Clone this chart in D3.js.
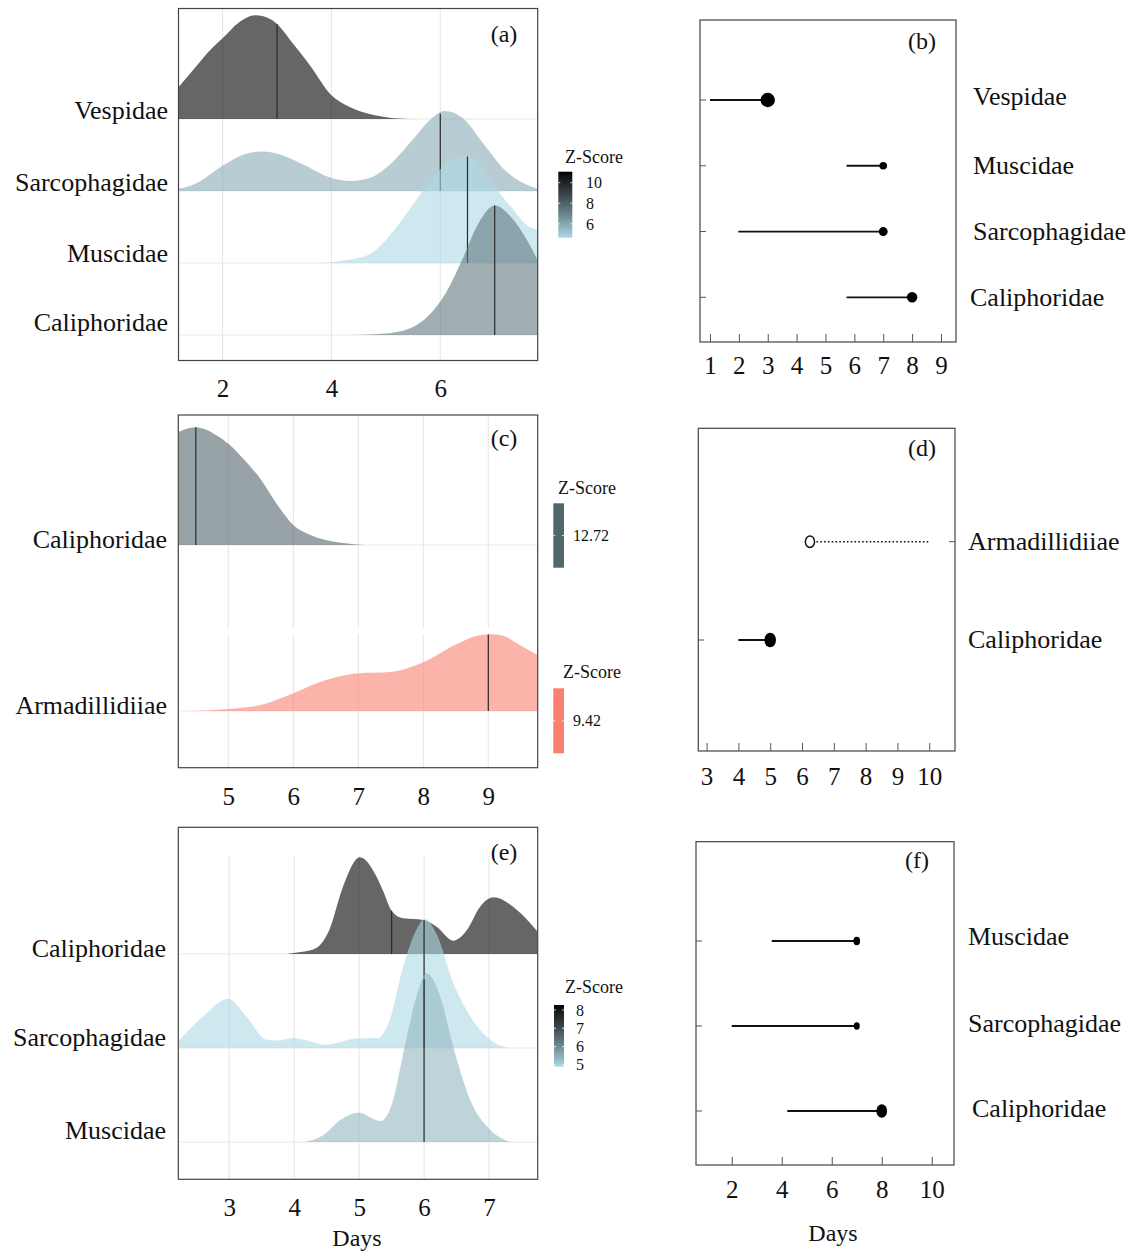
<!DOCTYPE html>
<html>
<head>
<meta charset="utf-8">
<script src="https://cdn.jsdelivr.net/npm/d3@7"></script>
<style>
  body { margin: 0; background: #fff; }
  text { font-family: "Liberation Serif", "Times New Roman", serif; fill: #111; }
</style>
</head>
<body>
<svg id="fig" width="1134" height="1252"></svg>
<script>
// ---------- panel (a): ridges ----------
const aRows = ["Vespidae", "Sarcophagidae", "Muscidae", "Caliphoridae"];
const aZ = [11.07, 5.9, 4.66, 7.4];
const aMedian = [3, 6, 6.5, 7];
const aTicks = [2, 4, 6];
const aVespDay = [1.19, 1.5, 1.8, 2.0, 2.3, 2.6, 2.9, 3.0, 3.3, 3.6, 4.0, 4.3, 4.6, 5.0, 5.45];
const aVespDens = [0.44, 0.72, 0.98, 1.12, 1.34, 1.44, 1.38, 1.32, 1.04, 0.75, 0.33, 0.18, 0.09, 0.025, 0];
const aSarcDay = [1.19, 1.5, 2.0, 2.4, 2.72, 3.0, 3.5, 4.0, 4.34, 4.7, 5.0, 5.5, 5.8, 6.08, 6.4, 6.8, 7.2, 7.5, 7.79];
const aSarcDens = [0.03, 0.1, 0.35, 0.51, 0.55, 0.52, 0.36, 0.18, 0.14, 0.18, 0.32, 0.72, 0.98, 1.11, 1.02, 0.65, 0.28, 0.12, 0.03];
const aMuscDay = [3.82, 4.2, 4.7, 5.0, 5.3, 5.6, 5.9, 6.2, 6.45, 6.7, 7.0, 7.3, 7.6, 7.79];
const aMuscDens = [0, 0.03, 0.12, 0.32, 0.6, 0.92, 1.22, 1.43, 1.5, 1.39, 1.06, 0.78, 0.52, 0.46];
const aCaliDay = [4.34, 4.8, 5.2, 5.5, 5.8, 6.1, 6.4, 6.7, 7.0, 7.3, 7.6, 7.79];
const aCaliDens = [0, 0.01, 0.04, 0.11, 0.28, 0.58, 1.04, 1.55, 1.8, 1.64, 1.31, 1.04];
const aLegendTicks = [6, 8, 10];

// ---------- panel (b): dots ----------
const bRows = ["Vespidae", "Muscidae", "Sarcophagidae", "Caliphoridae"];
const bPoint = [3, 7, 7, 8];
const bOther = [1, 5.73, 1.98, 5.73];
const bZ = [11.07, 4.66, 5.9, 7.4];
const bTicks = [1, 2, 3, 4, 5, 6, 7, 8, 9];

// ---------- panel (c): ridges ----------
const cRows = ["Caliphoridae", "Armadillidiiae"];
const cZ = [12.72, 9.42];
const cMedian = [4.5, 9];
const cTicks = [5, 6, 7, 8, 9];
const cCaliDay = [4.23, 4.36, 4.49, 4.62, 4.82, 5.0, 5.23, 5.49, 5.74, 6.0, 6.26, 6.5, 6.77, 7.1];
const cCaliDens = [0.68, 0.7, 0.71, 0.7, 0.66, 0.61, 0.52, 0.4, 0.25, 0.12, 0.06, 0.03, 0.012, 0];
const cArmaDay = [4.46, 5.0, 5.5, 6.0, 6.36, 6.67, 7.0, 7.49, 8.0, 8.5, 8.8, 9.03, 9.25, 9.44, 9.76];
const cArmaDens = [0, 0.012, 0.036, 0.107, 0.167, 0.205, 0.227, 0.235, 0.293, 0.4, 0.45, 0.462, 0.45, 0.408, 0.337];

// ---------- panel (d): dots ----------
const dRows = ["Armadillidiiae", "Caliphoridae"];
const dPoint = [6.25, 5];
const dOther = [9.97, 4];
const dZ = [9.42, 12.72];
const dSignificant = [false, true];
const dTicks = [3, 4, 5, 6, 7, 8, 9, 10];

// ---------- panel (e): ridges ----------
const eRows = ["Caliphoridae", "Sarcophagidae", "Muscidae"];
const eZ = [8.27, 4.9, 5.37];
const eMedian = [5.5, 6, 6];
const eTicks = [3, 4, 5, 6, 7];
const eCaliDay = [3.88, 4.1, 4.34, 4.54, 4.75, 5.01, 5.27, 5.37, 5.5, 5.68, 5.99, 6.2, 6.45, 6.66, 6.86, 7.07, 7.43, 7.75];
const eCaliDens = [0, 0.02, 0.064, 0.255, 0.713, 1.03, 0.82, 0.67, 0.46, 0.38, 0.362, 0.287, 0.141, 0.255, 0.5, 0.603, 0.468, 0.237];
const eSarcDay = [2.215, 2.6, 2.98, 3.26, 3.57, 3.75, 3.98, 4.2, 4.47, 4.75, 4.96, 5.29, 5.47, 5.68, 5.88, 6.01, 6.2, 6.45, 6.71, 7.02, 7.28];
const eSarcDens = [0.074, 0.337, 0.524, 0.337, 0.088, 0.08, 0.106, 0.08, 0.035, 0.07, 0.103, 0.106, 0.298, 0.869, 1.255, 1.372, 1.202, 0.691, 0.337, 0.088, 0];
const eMuscDay = [4.17, 4.45, 4.71, 4.99, 5.33, 5.51, 5.68, 5.88, 6.04, 6.25, 6.45, 6.71, 7.02, 7.33];
const eMuscDens = [0, 0.074, 0.234, 0.312, 0.223, 0.412, 0.944, 1.543, 1.795, 1.543, 1.011, 0.447, 0.128, 0];
const eLegendTicks = [5, 6, 7, 8];

// ---------- panel (f): dots ----------
const fRows = ["Muscidae", "Sarcophagidae", "Caliphoridae"];
const fPoint = [7, 7, 8];
const fOther = [3.6, 2.0, 4.22];
const fZ = [5.37, 4.9, 8.27];
const fTicks = [2, 4, 6, 8, 10];

const svg = d3.select("#fig");
const gridColor = "#e8e8e8";
const frameColor = "#444";
const ramp = d3.interpolateLab("#add8e6", "#000000");

function interpDens(days, dens, v) {
  const i = d3.bisectLeft(days, v);
  if (i <= 0) return dens[0];
  if (i >= days.length) return dens[dens.length - 1];
  const t = (v - days[i - 1]) / (days[i] - days[i - 1]);
  return dens[i - 1] + t * (dens[i] - dens[i - 1]);
}

function ridgePanel(p) {
  const x = d3.scaleLinear().domain(p.xDomain).range([p.left, p.right]);
  const y = d3.scalePoint().domain(p.rows).range(p.baseRange);
  const h = d3.scaleLinear().domain([0, 1]).range([0, p.step]);
  const g = svg.append("g");

  const clipId = "clip-" + p.tag;
  svg.append("clipPath").attr("id", clipId)
    .append("rect")
    .attr("x", p.left).attr("y", p.top)
    .attr("width", p.right - p.left).attr("height", p.bottom - p.top);
  const plot = g.append("g").attr("clip-path", `url(#${clipId})`);

  p.gridSpans.forEach(([y0, y1]) => {
    plot.append("g").selectAll("line").data(p.ticks).join("line")
      .attr("x1", (d) => x(d)).attr("x2", (d) => x(d))
      .attr("y1", y0).attr("y2", y1)
      .attr("stroke", gridColor).attr("stroke-width", 1.2);
  });
  plot.append("g").selectAll("line").data(p.rows).join("line")
    .attr("x1", p.left).attr("x2", p.right)
    .attr("y1", (d) => y(d)).attr("y2", (d) => y(d))
    .attr("stroke", gridColor).attr("stroke-width", 1.2);

  p.ridges.forEach((r) => {
    const base = y(r.name);
    const area = d3.area()
      .curve(d3.curveMonotoneX)
      .x((d) => x(d[0]))
      .y0(base)
      .y1((d) => base - h(d[1]));
    plot.append("path")
      .datum(d3.zip(r.day, r.dens))
      .attr("d", area)
      .attr("fill", r.color)
      .attr("fill-opacity", 0.6);
    const m = interpDens(r.day, r.dens, r.median);
    plot.append("line")
      .attr("x1", x(r.median)).attr("x2", x(r.median))
      .attr("y1", base).attr("y2", base - h(m))
      .attr("stroke", "#2b2b2b").attr("stroke-width", 1.2);
  });

  g.append("rect")
    .attr("x", p.left).attr("y", p.top)
    .attr("width", p.right - p.left).attr("height", p.bottom - p.top)
    .attr("fill", "none").attr("stroke", frameColor).attr("stroke-width", 1.2);

  g.append("g")
    .attr("transform", `translate(0,${p.bottom})`)
    .call(d3.axisBottom(x).tickValues(p.ticks).tickSize(0)
      .tickPadding(p.labelBase - p.bottom - 18).tickFormat(d3.format("d")))
    .call((a) => a.select(".domain").remove())
    .selectAll("text")
    .attr("font-family", '"Liberation Serif", serif')
    .attr("font-size", 25).attr("fill", "#111");

  g.append("g").selectAll("text").data(p.rows).join("text")
    .attr("x", p.labelX)
    .attr("y", (d, i) => y(d) + p.labelDy[i])
    .attr("text-anchor", "end")
    .attr("font-size", 26)
    .text((d) => d);

  g.append("text")
    .attr("x", p.tagX).attr("y", p.tagY)
    .attr("text-anchor", "middle")
    .attr("font-size", 24)
    .text(`(${p.tag})`);
}

function dotPanel(p) {
  const x = d3.scaleLinear().domain(p.xDomain).range([p.left, p.right]);
  const y = d3.scalePoint().domain(p.rows).range(p.rowRange);
  const r = d3.scaleLinear().domain(p.zDomain).range(p.rRange);
  const g = svg.append("g");

  g.append("rect")
    .attr("x", p.left).attr("y", p.top)
    .attr("width", p.right - p.left).attr("height", p.bottom - p.top)
    .attr("fill", "none").attr("stroke", frameColor).attr("stroke-width", 1.2);

  g.append("g")
    .attr("transform", `translate(0,${p.bottom})`)
    .call(d3.axisBottom(x).tickValues(p.ticks).tickSizeInner(-8).tickSizeOuter(0)
      .tickPadding(p.labelBase - p.bottom - 18).tickFormat(d3.format("d")))
    .call((a) => a.select(".domain").remove())
    .call((a) => a.selectAll("line").attr("stroke", "#555").attr("stroke-width", 1))
    .selectAll("text")
    .attr("font-family", '"Liberation Serif", serif')
    .attr("font-size", 25).attr("fill", "#111");

  const rows = p.rows.map((name, i) => ({
    name,
    point: p.point[i],
    other: p.other[i],
    z: p.z[i],
    sig: p.sig ? p.sig[i] : true,
  }));

  g.append("g").selectAll("line").data(rows).join("line")
    .attr("x1", (d) => (d.sig ? p.left : p.right - 6))
    .attr("x2", (d) => (d.sig ? p.left + 6 : p.right))
    .attr("y1", (d) => y(d.name)).attr("y2", (d) => y(d.name))
    .attr("stroke", "#555").attr("stroke-width", 1);

  g.append("g").selectAll("line").data(rows).join("line")
    .attr("x1", (d) => x(d.other)).attr("x2", (d) => x(d.point))
    .attr("y1", (d) => y(d.name)).attr("y2", (d) => y(d.name))
    .attr("stroke", "#111")
    .attr("stroke-width", (d) => (d.sig ? 1.8 : 1.5))
    .attr("stroke-dasharray", (d) => (d.sig ? null : "1.6,2.2"));

  g.append("g").selectAll("ellipse").data(rows).join("ellipse")
    .attr("cx", (d) => x(d.point)).attr("cy", (d) => y(d.name))
    .attr("rx", (d) => r(d.z)).attr("ry", (d) => r(d.z) * p.aspect)
    .attr("fill", (d) => (d.sig ? "#000" : "#fff"))
    .attr("stroke", "#111").attr("stroke-width", (d) => (d.sig ? 0 : 1.5));

  g.append("g").selectAll("text").data(rows).join("text")
    .attr("x", (d, i) => p.labelX[i])
    .attr("y", (d, i) => y(d.name) + p.labelDy[i])
    .attr("font-size", 26)
    .text((d) => d.name);

  g.append("text")
    .attr("x", p.tagX).attr("y", p.tagY)
    .attr("text-anchor", "middle")
    .attr("font-size", 24)
    .text(`(${p.tag})`);
}

function gradLegend(p) {
  const g = svg.append("g");
  const ly = d3.scaleLinear().domain(p.domain).range([p.y1, p.y0]);
  const id = "grad-" + p.id;
  const grad = svg.append("defs").append("linearGradient")
    .attr("id", id).attr("x1", 0).attr("y1", 1).attr("x2", 0).attr("y2", 0);
  grad.selectAll("stop").data(d3.range(0, 1.0001, 0.1)).join("stop")
    .attr("offset", (d) => d)
    .attr("stop-color", (d) => ramp(d));
  g.append("text").attr("x", p.titleX).attr("y", p.titleY)
    .attr("font-size", 18).text("Z-Score");
  g.append("rect").attr("x", p.x0).attr("y", p.y0)
    .attr("width", p.x1 - p.x0).attr("height", p.y1 - p.y0)
    .attr("fill", `url(#${id})`);
  p.ticks.forEach((t) => {
    g.append("line").attr("x1", p.x0).attr("x2", p.x0 + 2)
      .attr("y1", ly(t)).attr("y2", ly(t)).attr("stroke", "#fff").attr("stroke-width", 0.8);
    g.append("line").attr("x1", p.x1 - 2).attr("x2", p.x1)
      .attr("y1", ly(t)).attr("y2", ly(t)).attr("stroke", "#fff").attr("stroke-width", 0.8);
    g.append("text").attr("x", p.labelX).attr("y", ly(t)).attr("dy", "0.35em")
      .attr("font-size", 16).text(t);
  });
}

function solidLegend(p) {
  const g = svg.append("g");
  g.append("text").attr("x", p.titleX).attr("y", p.titleY)
    .attr("font-size", 18).text("Z-Score");
  g.append("rect").attr("x", p.x0).attr("y", p.y0)
    .attr("width", p.x1 - p.x0).attr("height", p.y1 - p.y0)
    .attr("fill", p.color);
  const ym = (p.y0 + p.y1) / 2;
  g.append("line").attr("x1", p.x0).attr("x2", p.x0 + 2).attr("y1", ym).attr("y2", ym)
    .attr("stroke", "#fff").attr("stroke-width", 0.8);
  g.append("line").attr("x1", p.x1 - 2).attr("x2", p.x1).attr("y1", ym).attr("y2", ym)
    .attr("stroke", "#fff").attr("stroke-width", 0.8);
  g.append("text").attr("x", p.labelX).attr("y", ym).attr("dy", "0.35em")
    .attr("font-size", 16).text(d3.format(".2f")(p.value));
}

// colour from Z-score, lightblue (low) to black (high)
const aColor = d3.scaleLinear().domain(d3.extent(aZ)).range([0, 1]);
const eColor = d3.scaleLinear().domain(d3.extent(eZ)).range([0, 1]);
const cColors = [ramp(0.5), "#fa8072"];

// (a)
ridgePanel({
  tag: "a", left: 178.5, right: 537.7, top: 8.5, bottom: 360.5,
  xDomain: [1.19, 7.79], ticks: aTicks, rows: aRows, baseRange: [119, 335], step: 72,
  gridSpans: [[8.5, 360.5]], labelBase: 397, labelX: 168, labelDy: [0, 0, -1, -4],
  tagX: 504, tagY: 42,
  ridges: [
    { name: aRows[0], day: aVespDay, dens: aVespDens, median: aMedian[0], color: ramp(aColor(aZ[0])) },
    { name: aRows[1], day: aSarcDay, dens: aSarcDens, median: aMedian[1], color: ramp(aColor(aZ[1])) },
    { name: aRows[2], day: aMuscDay, dens: aMuscDens, median: aMedian[2], color: ramp(aColor(aZ[2])) },
    { name: aRows[3], day: aCaliDay, dens: aCaliDens, median: aMedian[3], color: ramp(aColor(aZ[3])) },
  ],
});
gradLegend({
  id: "a", domain: d3.extent(aZ), ticks: aLegendTicks,
  x0: 558.3, x1: 572.3, y0: 171.7, y1: 237.7, labelX: 586, titleX: 565, titleY: 163,
});

// (b)
dotPanel({
  tag: "b", left: 700, right: 956, top: 20, bottom: 342,
  xDomain: [0.654, 9.52], ticks: bTicks, rows: bRows, rowRange: [100, 297.3],
  point: bPoint, other: bOther, z: bZ, zDomain: d3.extent(bZ), rRange: [3.8, 7.2], aspect: 1,
  labelBase: 374, labelX: [973, 973, 973, 970], labelDy: [5, 8, 8, 9],
  tagX: 922, tagY: 49,
});

// (c)
ridgePanel({
  tag: "c", left: 178.3, right: 537.7, top: 415, bottom: 767.7,
  xDomain: [4.23, 9.76], ticks: cTicks, rows: cRows, baseRange: [545, 711], step: 166,
  gridSpans: [[415, 628], [634, 767.7]], labelBase: 805, labelX: 167, labelDy: [3, 3],
  tagX: 504, tagY: 446,
  ridges: [
    { name: cRows[0], day: cCaliDay, dens: cCaliDens, median: cMedian[0], color: cColors[0] },
    { name: cRows[1], day: cArmaDay, dens: cArmaDens, median: cMedian[1], color: cColors[1] },
  ],
});
solidLegend({
  value: cZ[0], color: cColors[0],
  x0: 553.3, x1: 564, y0: 503.3, y1: 567.7, labelX: 573, titleX: 558, titleY: 494,
});
solidLegend({
  value: cZ[1], color: cColors[1],
  x0: 553.3, x1: 564, y0: 688.3, y1: 753.3, labelX: 573, titleX: 563, titleY: 678,
});

// (d)
dotPanel({
  tag: "d", left: 698.3, right: 955, top: 428.3, bottom: 751,
  xDomain: [2.74, 10.81], ticks: dTicks, rows: dRows, rowRange: [541.7, 640],
  point: dPoint, other: dOther, z: dZ, sig: dSignificant,
  zDomain: d3.extent(dZ), rRange: [4.6, 5.8], aspect: 1.25,
  labelBase: 785, labelX: [968, 968], labelDy: [8, 8],
  tagX: 922, tagY: 456,
});

// (e)
ridgePanel({
  tag: "e", left: 178.3, right: 537.7, top: 827.3, bottom: 1179.3,
  xDomain: [2.215, 7.75], ticks: eTicks, rows: eRows, baseRange: [954, 1142], step: 94,
  gridSpans: [[856, 1179.3]], labelBase: 1216, labelX: 166, labelDy: [3, -2, -3],
  tagX: 504, tagY: 860,
  ridges: [
    { name: eRows[0], day: eCaliDay, dens: eCaliDens, median: eMedian[0], color: ramp(eColor(eZ[0])) },
    { name: eRows[1], day: eSarcDay, dens: eSarcDens, median: eMedian[1], color: ramp(eColor(eZ[1])) },
    { name: eRows[2], day: eMuscDay, dens: eMuscDens, median: eMedian[2], color: ramp(eColor(eZ[2])) },
  ],
});
gradLegend({
  id: "e", domain: d3.extent(eZ), ticks: eLegendTicks,
  x0: 554, x1: 564, y0: 1005, y1: 1066.7, labelX: 576, titleX: 565, titleY: 993,
});
svg.append("text").attr("x", 357).attr("y", 1246)
  .attr("text-anchor", "middle").attr("font-size", 24).text("Days");

// (f)
dotPanel({
  tag: "f", left: 696, right: 954, top: 841.7, bottom: 1165,
  xDomain: [0.57, 10.89], ticks: fTicks, rows: fRows, rowRange: [941, 1111],
  point: fPoint, other: fOther, z: fZ, zDomain: d3.extent(fZ), rRange: [3, 5.4], aspect: 1.25,
  labelBase: 1198, labelX: [968, 968, 972], labelDy: [4, 6, 6],
  tagX: 917, tagY: 868,
});
svg.append("text").attr("x", 833).attr("y", 1241)
  .attr("text-anchor", "middle").attr("font-size", 24).text("Days");
</script>
</body>
</html>
